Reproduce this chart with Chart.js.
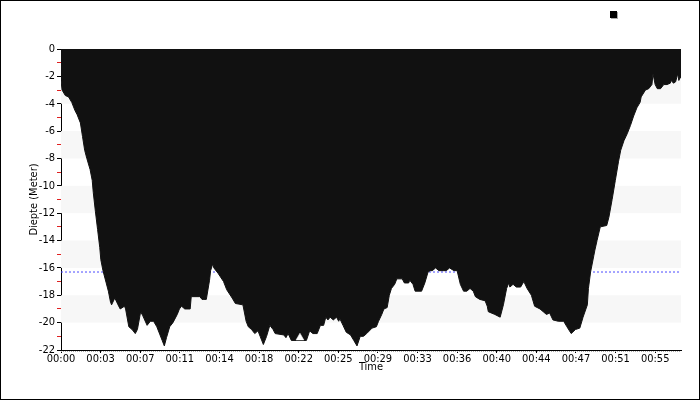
<!DOCTYPE html>
<html lang="nl">
<head>
<meta charset="UTF-8">
<title>Duikprofiel</title>
<style>
    body { margin: 0; background: #fff; }
    .frame {
        width: 700px;
        height: 400px;
        box-sizing: border-box;
        border: 1px solid #000;
        background: #fff;
    }
    canvas { display: block; }
</style>
<script src="https://cdn.jsdelivr.net/npm/chart.js@4.4.1/dist/chart.umd.min.js"></script>
</head>
<body>
<div class="frame">
    <canvas id="diveChart" width="698" height="398"></canvas>
</div>
<script>
// Duiktijd in minuten
const times = [
    0.0, 0.1, 0.4, 0.7, 1.0, 1.3, 1.5, 1.8, 2.0, 2.2, 2.4, 2.7, 2.9, 3.0, 3.2, 3.4, 3.6, 3.7, 3.9, 4.2,
    4.4, 4.6, 4.7, 5.0, 5.3, 5.5, 5.9, 6.0, 6.3, 6.6, 6.9, 7.1, 7.4, 7.6, 8.0, 8.3, 8.6, 8.9, 9.2, 9.4,
    9.6, 9.8, 10.1, 10.4, 10.8, 11.0, 11.2, 11.5, 12.0, 12.1, 12.9, 13.1, 13.2, 13.5, 13.8, 13.9, 14.1, 14.2, 14.6, 15.1,
    15.4, 15.9, 16.2, 16.9, 17.2, 17.4, 17.7, 18.0, 18.3, 18.5, 18.8, 19.1, 19.4, 19.7, 19.9, 20.7, 20.9, 21.1, 21.4, 22.8,
    23.1, 23.4, 23.8, 24.1, 24.4, 24.6, 24.8, 25.0, 25.3, 25.6, 25.8, 25.9, 26.2, 26.5, 26.9, 27.2, 27.5, 27.8, 28.1, 28.4,
    28.9, 29.3, 29.5, 29.8, 30.0, 30.3, 30.5, 30.7, 31.0, 31.2, 31.7, 31.9, 32.3, 32.4, 32.7, 32.9, 33.5, 33.8, 34.1, 34.3,
    34.5, 34.8, 35.1, 35.5, 35.8, 36.1, 36.5, 36.8, 37.1, 37.4, 37.7, 38.0, 38.3, 38.5, 38.9, 39.4, 39.6, 39.7, 40.3, 40.8,
    41.1, 41.4, 41.6, 41.7, 42.0, 42.3, 42.7, 43.0, 43.3, 43.7, 44.0, 44.5, 44.8, 45.1, 45.4, 45.7, 46.2, 46.7, 47.0, 47.4,
    47.8, 48.2, 48.5, 48.9, 49.0, 49.2, 49.5, 49.6, 49.8, 50.1, 50.7, 50.9, 51.2, 51.5, 51.8, 52.0, 52.3, 52.6, 52.9, 53.2,
    53.5, 53.8, 53.9, 54.3, 54.6, 54.9, 55.0, 55.2, 55.4, 55.7, 56.0, 56.3, 56.6, 56.7, 56.9, 57.1, 57.3, 57.4, 57.5, 57.6
];

// Diepte in meter
const depths = [
    -2.3, -3.0, -3.4, -3.5, -3.9, -4.5, -4.8, -5.4, -6.4, -7.4, -8.0, -8.8, -9.6, -10.5, -11.9, -13.2, -14.5, -15.4, -16.2, -17.1,
    -17.7, -18.5, -18.7, -18.2, -18.7, -19.0, -18.8, -19.0, -20.3, -20.5, -20.8, -20.5, -19.2, -19.5, -20.2, -19.9, -19.9, -20.3, -20.9, -21.3,
    -21.7, -21.1, -20.3, -20.0, -19.4, -19.0, -18.8, -19.0, -19.0, -18.1, -18.1, -18.3, -18.3, -18.3, -16.9, -16.2, -15.7, -16.0, -16.4, -17.0,
    -17.6, -18.2, -18.6, -18.7, -19.9, -20.3, -20.5, -20.8, -20.6, -21.0, -21.6, -21.0, -20.2, -20.5, -20.8, -20.9, -21.1, -20.8, -21.3, -21.3,
    -20.6, -20.8, -20.8, -20.2, -20.2, -19.6, -19.8, -19.6, -19.8, -19.6, -19.9, -19.7, -20.2, -20.7, -20.9, -21.3, -21.7, -21.0, -21.0, -20.8,
    -20.4, -20.3, -19.9, -19.4, -19.0, -18.9, -18.0, -17.5, -17.2, -16.8, -16.8, -17.1, -17.1, -16.9, -17.2, -17.7, -17.7, -17.1, -16.3, -16.2,
    -16.2, -16.0, -16.2, -16.2, -16.2, -16.0, -16.2, -16.2, -17.2, -17.7, -17.7, -17.5, -17.7, -18.1, -18.3, -18.4, -18.8, -19.2, -19.4, -19.6,
    -18.7, -17.5, -17.1, -17.4, -17.2, -17.4, -17.4, -17.0, -17.5, -18.0, -18.8, -19.0, -19.2, -19.4, -19.3, -19.8, -19.9, -19.9, -20.3, -20.8,
    -20.5, -20.4, -19.6, -18.7, -17.5, -16.3, -15.1, -14.7, -14.0, -13.0, -12.9, -12.3, -11.0, -9.6, -8.2, -7.4, -6.7, -6.2, -5.6, -4.9,
    -4.3, -3.9, -3.5, -3.0, -2.9, -2.6, -1.8, -2.6, -2.9, -2.9, -2.6, -2.6, -2.5, -2.3, -2.5, -2.4, -1.8, -2.3, -2.1, -2.1
];

// Gemiddelde diepte en maximale diepte
const avgDepth = -16.3;
const maxDepthTime = [22.2];
const maxDepthMark = [-21.1];

// As-labels
const xTickLabels = ['00:00', '00:03', '00:07', '00:11', '00:14', '00:18', '00:22', '00:25',
                     '00:29', '00:33', '00:36', '00:40', '00:44', '00:47', '00:51', '00:55'];
const xTickStep = 3.68;
const xMax = 57.6;
const yMin = -22;
const yMax = 0;
const bandRanges = [[-4, -2], [-8, -6], [-12, -10], [-16, -14], [-20, -18]];

const FONT = '"DejaVu Sans Condensed", "DejaVu Sans", sans-serif';
Chart.defaults.font.family = FONT;
Chart.defaults.font.size = 11;
Chart.defaults.color = '#000';

// Achtergrondbanden en legenda-blokje
const decorPlugin = {
    id: 'decor',
    beforeDatasetsDraw(chart) {
        const { ctx, chartArea, scales } = chart;
        ctx.save();
        ctx.fillStyle = '#f7f7f7';
        bandRanges.forEach(([lo, hi]) => {
            const y1 = scales.y.getPixelForValue(hi);
            const y2 = scales.y.getPixelForValue(lo);
            ctx.fillRect(chartArea.left, y1, chartArea.right - chartArea.left, y2 - y1);
        });
        ctx.restore();
    },
    afterDraw(chart) {
        const { ctx, chartArea } = chart;
        ctx.save();
        // stippellijn onder de x-as
        ctx.strokeStyle = '#b0b0b0';
        ctx.lineWidth = 1;
        ctx.setLineDash([1, 1]);
        ctx.beginPath();
        ctx.moveTo(chartArea.left, chartArea.bottom + 1.5);
        ctx.lineTo(chartArea.right, chartArea.bottom + 1.5);
        ctx.stroke();
        ctx.setLineDash([]);
        // legenda
        ctx.fillStyle = '#aaa';
        ctx.fillRect(610, 11, 7, 7);
        ctx.fillStyle = '#000';
        ctx.fillRect(609, 10, 7, 7);
        ctx.restore();
    }
};

const ctx = document.getElementById('diveChart').getContext('2d');
const diveChart = new Chart(ctx, {
    type: 'line',
    data: {
        datasets: [
            {
                label: 'Max',
                type: 'scatter',
                data: maxDepthTime.map((t, i) => ({ x: t, y: maxDepthMark[i] })),
                pointStyle: 'triangle',
                pointRadius: 4.5,
                pointBackgroundColor: '#fff',
                pointBorderColor: '#fff',
                pointBorderWidth: 0.5,
                order: 1
            },
            {
                label: 'Diepte',
                data: times.map((t, i) => ({ x: t, y: depths[i] })),
                borderColor: '#111',
                backgroundColor: '#111',
                borderWidth: 1,
                pointRadius: 0,
                tension: 0,
                fill: 'origin',
                order: 2
            },
            {
                label: 'Gemiddeld',
                data: [{ x: 0, y: avgDepth }, { x: xMax, y: avgDepth }],
                borderColor: '#4a4aff',
                borderWidth: 1,
                borderDash: [2, 2],
                pointRadius: 0,
                fill: false,
                order: 3
            }
        ]
    },
    options: {
        responsive: false,
        animation: false,
        layout: { padding: { top: 48, right: 18, left: 0, bottom: 0 } },
        plugins: {
            legend: { display: false },
            tooltip: { enabled: false }
        },
        scales: {
            x: {
                type: 'linear',
                min: 0,
                max: xMax,
                afterBuildTicks(scale) {
                    scale.ticks = xTickLabels.map((l, i) => ({ value: i * xTickStep }));
                },
                afterFit(scale) { scale.height = 49; },
                ticks: {
                    autoSkip: false,
                    maxRotation: 0,
                    padding: 0,
                    callback: (v, i) => xTickLabels[i]
                },
                grid: {
                    drawOnChartArea: false,
                    tickLength: 3,
                    tickColor: '#000'
                },
                border: { color: '#000', width: 1 },
                title: {
                    display: true,
                    text: 'Time',
                    padding: { top: 0, bottom: 25 }
                }
            },
            y: {
                type: 'linear',
                min: yMin,
                max: yMax,
                afterBuildTicks(scale) {
                    const t = [];
                    for (let v = yMin; v <= yMax; v++) t.push({ value: v });
                    scale.ticks = t;
                },
                afterFit(scale) { scale.width = 60; },
                ticks: {
                    autoSkip: false,
                    padding: 2,
                    callback: v => (v % 2 === 0 ? String(v) : '')
                },
                grid: {
                    drawOnChartArea: false,
                    tickLength: 4,
                    tickColor: c => (c.tick && c.tick.value % 2 !== 0 ? '#e02020' : '#000')
                },
                border: { color: '#000', width: 1 },
                title: {
                    display: true,
                    text: 'Diepte (Meter)',
                    padding: { top: 27, bottom: 0 }
                }
            }
        }
    },
    plugins: [decorPlugin]
});
</script>
</body>
</html>
